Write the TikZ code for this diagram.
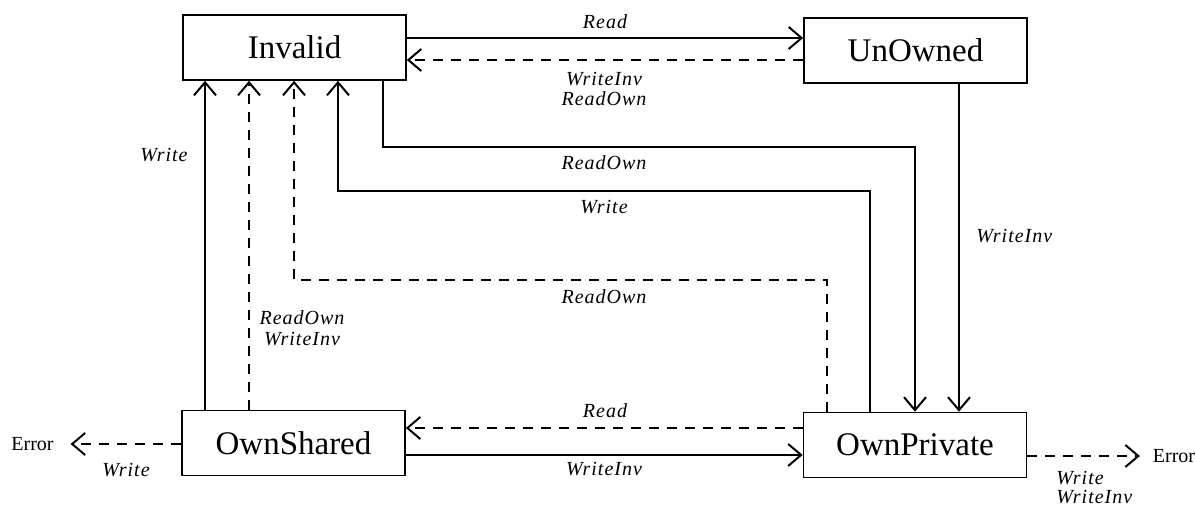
\documentclass[tikz,border=0pt]{standalone}
\usepackage{fontspec}
\setmainfont{Liberation Serif}
\newfontfamily\lblfont[LetterSpace=5.0]{Liberation Serif}
\usetikzlibrary{arrows.meta}
\begin{document}
\begin{tikzpicture}[x=0.5pt,y=-0.5pt,
  state/.style={draw, line width=0.8pt, minimum width=111.5pt, minimum height=32.5pt, inner sep=0pt, font=\fontsize{16.5}{18}\selectfont},
  lbl/.style={font=\lblfont\itshape\fontsize{10}{9.5}\selectfont, inner sep=0pt, align=center},
  errlbl/.style={font=\fontsize{10}{12}\selectfont, inner sep=0pt},
  tip/.style={-{Straight Barb[length=6.5pt,width=11pt,line width=1pt]}},
  sol/.style={line width=1pt, tip},
  dsh/.style={line width=0.75pt, dash pattern=on 5pt off 4pt, tip},
]
\useasboundingbox (0,0) rectangle (1196,507);

% states
\node[state] (inv) at (294.5,47.5) {Invalid};
\node[state] (uno) at (915.5,50.5) {UnOwned};
\node[state] (osh) at (293.5,443) {OwnShared};
\node[state] (opr) at (915,445) {OwnPrivate};

% error ends
\node[errlbl, outer xsep=8.5pt] (errL) at (32.5,444) {Error};
\node[errlbl, outer xsep=6.5pt] (errR) at (1174,456) {Error};

% lanes
\coordinate (xa) at (205,0);
\coordinate (xb) at (249,0);
\coordinate (xc) at (294,0);
\coordinate (xd) at (338,0);
\coordinate (xe) at (383,0);
\coordinate (xf) at (827,0);
\coordinate (xg) at (870,0);
\coordinate (xh) at (915,0);
\coordinate (xi) at (959,0);
\coordinate (ya) at (0,38);
\coordinate (yb) at (0,60);
\coordinate (yc) at (0,147);
\coordinate (yd) at (0,191);
\coordinate (ye) at (0,280);
\coordinate (yf) at (0,428);
\coordinate (yg) at (0,455);

% top pair
\draw[sol] (inv.east |- ya) -- (uno.west |- ya);
\draw[dsh] (uno.west |- yb) -- (inv.east |- yb);

% OwnShared -> Invalid
\draw[sol] (osh.north -| xa) -- (inv.south -| xa);
\draw[dsh] (osh.north -| xb) -- (inv.south -| xb);

% OwnPrivate -> Invalid (dashed ReadOwn)
\draw[dsh] (opr.north -| xf) -- (xf |- ye) -- (xc |- ye) -- (inv.south -| xc);
% OwnPrivate -> Invalid (Write)
\draw[sol] (opr.north -| xg) -- (xg |- yd) -- (xd |- yd) -- (inv.south -| xd);
% Invalid -> OwnPrivate (ReadOwn)
\draw[sol] (inv.south -| xe) -- (xe |- yc) -- (xh |- yc) -- (opr.north -| xh);
% UnOwned -> OwnPrivate
\draw[sol] (uno.south -| xi) -- (opr.north -| xi);

% bottom pair
\draw[dsh] (opr.west |- yf) -- (osh.east |- yf);
\draw[sol] (osh.east |- yg) -- (opr.west |- yg);

% errors
\draw[dsh] (osh.west |- errL) -- (errL.east);
\draw[dsh] (opr.east |- errR) -- (errR.west);

% labels
\node[lbl] (lRead) at (605,22) {Read};
\node[lbl, font=\lblfont\itshape\fontsize{10}{10}\selectfont] (lWIRO) at (604,89) {WriteInv\\ReadOwn};
\node[lbl] (lRO1) at (604,163) {ReadOwn};
\node[lbl] (lW1) at (604,207) {Write};
\node[lbl] (lRO2) at (604,297) {ReadOwn};
\node[lbl, anchor=west] (lWI1) at (976,236) {WriteInv};
\node[lbl, anchor=east] (lW2) at (188,155) {Write};
\node[lbl, font=\lblfont\itshape\fontsize{10}{10.5}\selectfont] (lROWI) at (302,328) {ReadOwn\\WriteInv};
\node[lbl] (lRead2) at (605,411) {Read};
\node[lbl] (lWI2) at (604,469) {WriteInv};
\node[lbl] (lW3) at (126,470) {Write};
\node[lbl, anchor=west, align=left] (lWWI) at (1056,487.5) {Write\\WriteInv};
\end{tikzpicture}
\end{document}
